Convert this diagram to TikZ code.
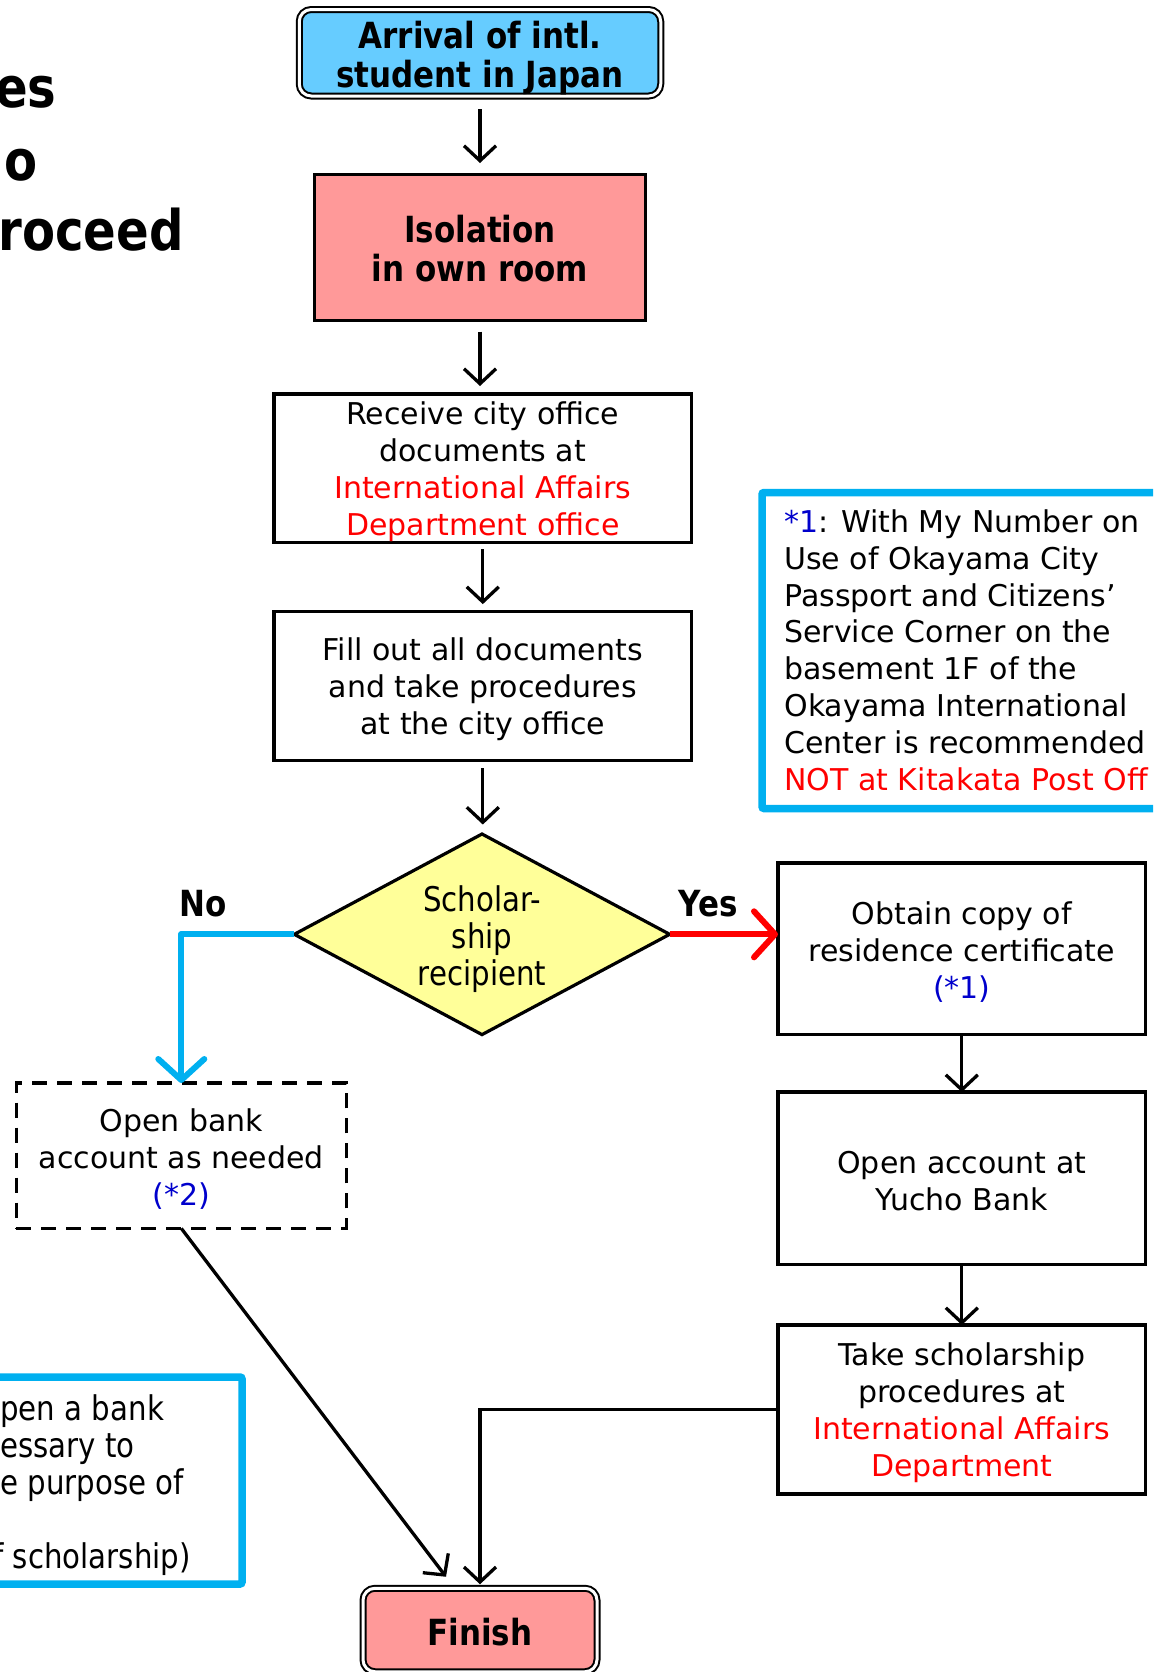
\documentclass[tikz,border=0pt]{standalone}
\usepackage{fontspec}
\setmainfont{DejaVu Sans}
\newfontfamily\tah[FakeStretch=0.86]{DejaVu Sans}
\usetikzlibrary{arrows.meta,shapes.geometric,calc}
\definecolor{arrblue}{HTML}{66CCFF}
\definecolor{pinkf}{HTML}{FF9999}
\definecolor{yel}{HTML}{FFFF99}
\definecolor{cyanl}{HTML}{00B0F0}
\definecolor{redt}{HTML}{FF0000}
\definecolor{bluet}{HTML}{0000CC}
\begin{document}
\begin{tikzpicture}[x=0.5pt,y=-0.5pt,
  blk/.style={line width=1.65pt, -{Straight Barb[length=7.5pt,width=16pt]}},
  colarr/.style={line width=3pt, line join=round, -{Straight Barb[length=10.5pt,width=23pt,round]}},
  box/.style={draw, line width=1.6pt, inner sep=0pt, outer sep=0pt},
  txt/.style={inner sep=0pt, align=center, font=\fontsize{15}{18.5}\selectfont},
  boldfont/.style={font=\tah\bfseries\fontsize{18}{19.25}\selectfont},
  btxt/.style={inner sep=0pt, align=center, boldfont},
  term/.style={draw, line width=1pt, double=white, double distance=1.5pt, rounded corners=6pt, inner sep=0pt, outer sep=0pt},
  note/.style={draw=cyanl, line width=3.75pt, rounded corners=1pt, inner sep=0pt, outer sep=0pt},
  titletxt/.style={anchor=base east, inner sep=0pt, font=\tah\bfseries\fontsize{28}{32}\selectfont},
]
\useasboundingbox (0,0) rectangle (1153,1672);
\clip (0,0) rectangle (1153,1672);

% title (cut off at the left edge)
\node[titletxt] (t1) at (57,107) {es};
\node[titletxt] (t2) at (38,180) {o};
\node[titletxt] (t3) at (184,250) {roceed};

% main column
\node[term, fill=arrblue, minimum width=180.75pt, minimum height=43.25pt] (arr) at (480,52.75) {};
\node[btxt] (arr-t) at ([yshift=-2.6pt]arr.center) {Arrival of intl.\\student in Japan};

\node[box, fill=pinkf, minimum width=165.25pt, minimum height=73pt] (iso) at (480,247.5) {};
\node[btxt] (iso-t) at ([yshift=-0.5pt]iso.center) {Isolation\\in own room};

\node[box, minimum width=208.8pt, minimum height=74.3pt] (rec) at (482.8,468.3) {};
\node[txt] (rec-t) at ([yshift=-1.7pt]rec.center) {Receive city office\\documents at\\\textcolor{redt}{International Affairs}\\\textcolor{redt}{Department office}};

\node[box, minimum width=208.8pt, minimum height=74.4pt] (fil) at (482.8,685.9) {};
\node[txt] (fil-t) at ([yshift=-1.7pt]fil.center) {Fill out all documents\\and take procedures\\at the city office};

\node[box, shape=diamond, fill=yel, minimum width=187.7pt, minimum height=100.3pt] (dia) at (482,934.3) {};
\node[txt, font=\tah\fontsize{17}{18.5}\selectfont] (dia-t) at ([yshift=-2.6pt]dia.center) {Scholar-\\ship\\recipient};

\node[btxt] (no) at (202.7,903.4) {No};
\node[btxt] (yes) at (708,903.4) {Yes};

% right column
\node[box, minimum width=183.8pt, minimum height=85.65pt] (obt) at (961.8,948.7) {};
\node[txt] (obt-t) at ([yshift=-1.7pt]obt.center) {Obtain copy of\\residence certificate\\\textcolor{bluet}{(*1)}};

\node[box, minimum width=183.8pt, minimum height=86.15pt] (opa) at (961.8,1178.2) {};
\node[txt] (opa-t) at ([yshift=-1.2pt]opa.center) {Open account at\\Yucho Bank};

\node[box, minimum width=183.8pt, minimum height=84.5pt] (tak) at (961.8,1409.5) {};
\node[txt] (tak-t) at ([yshift=-1.7pt]tak.center) {Take scholarship\\procedures at\\\textcolor{redt}{International Affairs}\\\textcolor{redt}{Department}};

% left branch
\node[box, line width=1.7pt, dash pattern=on 7.5pt off 5pt, minimum width=165pt, minimum height=72.7pt] (opb) at (181.3,1155.7) {};
\node[txt] (opb-t) at ([yshift=-1.7pt]opb.center) {Open bank\\account as needed\\\textcolor{bluet}{(*2)}};

% finish
\node[term, fill=pinkf, minimum width=117pt, minimum height=41.75pt] (fin) at (480,1630) {};
\node[btxt] (fin-t) at ([yshift=-1pt]fin.center) {Finish};

% notes
\node[note, anchor=north west, minimum width=210pt, minimum height=158pt] (n1box) at (762,492.5) {};
\node[anchor=north west, inner sep=0pt, align=left, font=\fontsize{15}{18.45}\selectfont] (n1) at (784,509) {\textcolor{bluet}{*1}: With My Number on\\Use of Okayama City\\Passport and Citizens’\\Service Corner on the\\basement 1F of the\\Okayama International\\Center is recommended\\\textcolor{redt}{NOT at Kitakata Post Off}};

\node[note, anchor=north east, minimum width=141pt, minimum height=103.5pt] (n2box) at (242,1377) {};
\node[anchor=north west, inner sep=0pt, align=left, font=\tah\fontsize{17}{18.5}\selectfont] (n2) at (0,1394) {pen a bank\\essary to\\e purpose of\\\mbox{}\\\hspace*{-3.5pt}f scholarship)};

% connectors
\draw[blk, shorten <=6.5pt, shorten >=5.75pt] (arr.south) -- (iso.north);
\draw[blk, shorten <=5.5pt, shorten >=4pt] (iso.south) -- (iso.south |- rec.north);
\draw[blk, shorten <=3.2pt, shorten >=3.7pt] (rec.south) -- (fil.north);
\draw[blk, shorten <=3.85pt, shorten >=4.75pt] (fil.south) -- (fil.south |- dia.north);
\draw[colarr, draw=cyanl] (dia.west) -| (opb.north);
\draw[colarr, draw=redt] (dia.east) -- (dia.east -| obt.west);
\draw[blk] (obt.south) -- (opa.north);
\draw[blk] (opa.south) -- (tak.north);
\draw[blk, shorten >=2pt] (tak.west) -| (fin.north);
\draw[blk] (opb.south) -- ($(fin.north)+(-34,-11.5)$);
\end{tikzpicture}
\end{document}
